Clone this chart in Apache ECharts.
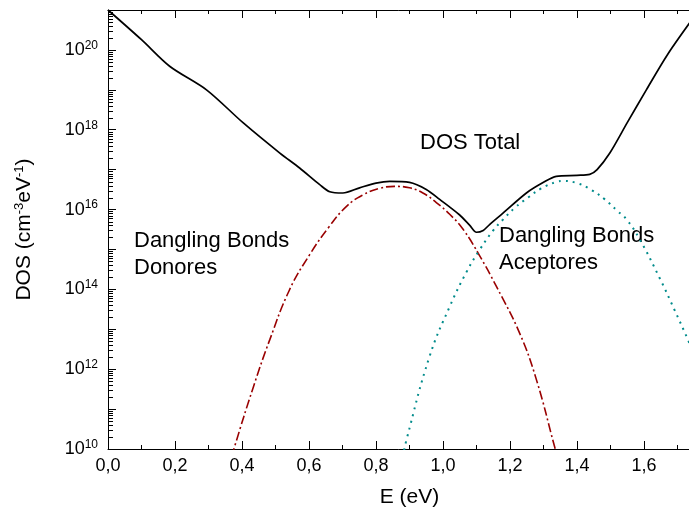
<!DOCTYPE html>
<html>
<head>
<meta charset="utf-8">
<script src="https://cdn.jsdelivr.net/npm/echarts@6/dist/echarts.min.js"></script>
<style>
  html, body { margin: 0; padding: 0; background: #ffffff; }
  #chart { width: 689px; height: 514px; }
</style>
</head>
<body>
<div id="chart"></div>
<script>
// Total density of states (cm^-3 eV^-1) versus energy (eV)
const energyTotal = [0, 0.1, 0.184, 0.294, 0.403, 0.513, 0.572, 0.632, 0.662, 0.701, 0.751, 0.80, 0.841,
  0.90, 0.95, 0.99, 1.049, 1.08, 1.10, 1.12, 1.139, 1.179, 1.249, 1.30, 1.338, 1.40, 1.438, 1.46,
  1.498, 1.55, 1.607, 1.67, 1.745];
const dosTotal = [1.0e21, 1.8e20, 3.9e19, 1.0e19, 1.5e18, 2.6e17, 1.1e17, 4.2e16, 2.8e16, 2.6e16, 3.5e16,
  4.6e16, 5.1e16, 4.8e16, 3.2e16, 1.8e16, 7.4e15, 4.0e15, 2.7e15, 3.0e15, 4.2e15, 8.1e15, 2.6e16,
  4.8e16, 6.8e16, 7.2e16, 7.6e16, 1.0e17, 2.6e17, 1.5e18, 1.0e19, 7.6e19, 6.0e20];

// Dangling bonds, donor-like states
const energyDonor = [0.37, 0.378, 0.434, 0.483, 0.542, 0.602, 0.66, 0.712, 0.76, 0.811, 0.855, 0.90, 0.94,
  0.98, 1.02, 1.06, 1.11, 1.159, 1.229, 1.279, 1.333, 1.345];
const dosDonor = [6.3e9, 1.15e10, 3.6e11, 5.5e12, 9.8e13, 7.4e14, 3.7e15, 1.2e16, 2.3e16, 3.4e16, 3.8e16,
  3.5e16, 2.6e16, 1.5e16, 7.6e15, 3.2e15, 6.8e14, 1.2e14, 7.9e12, 5.4e11, 1.15e10, 5.0e9];

// Dangling bonds, acceptor-like states
const energyAcceptor = [0.88, 0.891, 0.96, 1.02, 1.07, 1.11, 1.15, 1.179, 1.214, 1.254, 1.294, 1.338, 1.36,
  1.403, 1.443, 1.483, 1.522, 1.547, 1.587, 1.647, 1.69, 1.731, 1.745];
const dosAcceptor = [6.3e9, 1.7e10, 2.1e12, 3.7e13, 2.7e14, 1.0e15, 3.0e15, 5.6e15, 1.1e16, 2.0e16, 3.4e16,
  4.9e16, 5.2e16, 4.5e16, 3.1e16, 1.8e16, 9.0e15, 5.8e15, 1.8e15, 1.9e14, 3.2e13, 5.5e12, 2.8e12];

// Decades shown on the DOS axis
const yMinExp = 10;
const yMaxExp = 21;

const FONT = '"Liberation Sans", Arial, Helvetica, sans-serif';
const GRID = { left: 108, top: 10, width: 603, height: 439 };

function zip(xs, ys) {
  return xs.map((x, i) => [x, ys[i]]);
}

// log-axis minor ticks (2..9 in every decade) along the left axis line
const minorTickMarks = [];
for (let k = yMinExp; k < yMaxExp; k++) {
  for (let d = 2; d <= 9; d++) {
    const frac = (Math.log10(d) + k - yMinExp) / (yMaxExp - yMinExp);
    const y = Math.round(GRID.top + GRID.height * (1 - frac)) + 0.5;
    minorTickMarks.push({
      type: 'line',
      silent: true,
      z: 100,
      shape: { x1: GRID.left, y1: y, x2: GRID.left + 5, y2: y },
      style: { stroke: '#000000', lineWidth: 1 }
    });
  }
}

const annotations = [
  { type: 'text', x: 420, y: 143, style: { text: 'DOS Total', font: '22px ' + FONT, fill: '#000', verticalAlign: 'middle' } },
  { type: 'text', x: 134, y: 241, style: { text: 'Dangling Bonds', font: '22px ' + FONT, fill: '#000', verticalAlign: 'middle' } },
  { type: 'text', x: 134, y: 268, style: { text: 'Donores', font: '22px ' + FONT, fill: '#000', verticalAlign: 'middle' } },
  { type: 'text', x: 499, y: 236, style: { text: 'Dangling Bonds', font: '22px ' + FONT, fill: '#000', verticalAlign: 'middle' } },
  { type: 'text', x: 499, y: 263, style: { text: 'Aceptores', font: '22px ' + FONT, fill: '#000', verticalAlign: 'middle' } }
];

const chart = echarts.init(document.getElementById('chart'), null, { renderer: 'canvas' });

const xAxisCommon = {
  type: 'value',
  min: 0,
  max: 1.8,
  interval: 0.2,
  axisLine: { show: true, onZero: false, lineStyle: { color: '#000', width: 1 } },
  axisTick: { show: true, inside: true, length: 8, lineStyle: { color: '#000', width: 1 } },
  minorTick: { show: true, splitNumber: 2, length: 4, lineStyle: { color: '#000', width: 1 } },
  splitLine: { show: false },
  minorSplitLine: { show: false }
};

chart.setOption({
  animation: false,
  backgroundColor: '#ffffff',
  textStyle: { fontFamily: FONT },
  grid: Object.assign({ containLabel: false, outerBoundsMode: 'none' }, GRID),
  xAxis: [
    Object.assign({}, xAxisCommon, {
      position: 'bottom',
      name: 'E (eV)',
      nameLocation: 'middle',
      nameGap: 38,
      nameTextStyle: { fontFamily: FONT, fontSize: 21, color: '#000' },
      axisLabel: {
        show: true,
        margin: 8,
        fontFamily: FONT,
        fontSize: 18,
        color: '#000',
        showMaxLabel: false,
        formatter: v => v.toFixed(1).replace('.', ',')
      }
    }),
    Object.assign({}, xAxisCommon, {
      position: 'top',
      axisLabel: { show: false }
    })
  ],
  yAxis: {
    type: 'log',
    logBase: 10,
    min: Math.pow(10, yMinExp),
    max: Math.pow(10, yMaxExp),
    interval: 1,
    splitNumber: yMaxExp - yMinExp,
    name: '{b|DOS (cm}{s|-3}{b|eV}{s|-1}{b|)}',
    nameLocation: 'middle',
    nameRotate: 90,
    nameGap: 72,
    nameTextStyle: {
      color: '#000',
      rich: {
        b: { fontFamily: FONT, fontSize: 21, color: '#000' },
        s: { fontFamily: FONT, fontSize: 13, color: '#000', padding: [0, 0, 10, 0] }
      }
    },
    axisLine: { show: true, lineStyle: { color: '#000', width: 1 } },
    axisTick: { show: true, inside: true, length: 8, interval: 0, lineStyle: { color: '#000', width: 1 } },
    splitLine: { show: false },
    axisLabel: {
      show: true,
      margin: 10,
      color: '#000',
      // label every second decade
      formatter: function (v) {
        const e = Math.round(Math.log10(v));
        return e % 2 === 0 ? '{b|10}{s|' + e + '}' : '';
      },
      rich: {
        b: { fontFamily: FONT, fontSize: 18, color: '#000' },
        s: { fontFamily: FONT, fontSize: 12, color: '#000', padding: [0, 0, 9, 0] }
      }
    }
  },
  graphic: annotations.concat(minorTickMarks),
  series: [
    {
      name: 'Dangling Bonds Donores',
      type: 'line',
      data: zip(energyDonor, dosDonor),
      showSymbol: false,
      smooth: 0.45,
      lineStyle: { color: '#990000', width: 1.6, type: [9, 3, 2, 3] }
    },
    {
      name: 'Dangling Bonds Aceptores',
      type: 'line',
      data: zip(energyAcceptor, dosAcceptor),
      showSymbol: false,
      smooth: 0.45,
      lineStyle: { color: '#008b8b', width: 2, type: [2, 5] }
    },
    {
      name: 'DOS Total',
      type: 'line',
      data: zip(energyTotal, dosTotal),
      showSymbol: false,
      smooth: 0.3,
      lineStyle: { color: '#000', width: 1.7 }
    }
  ]
});
</script>
</body>
</html>
